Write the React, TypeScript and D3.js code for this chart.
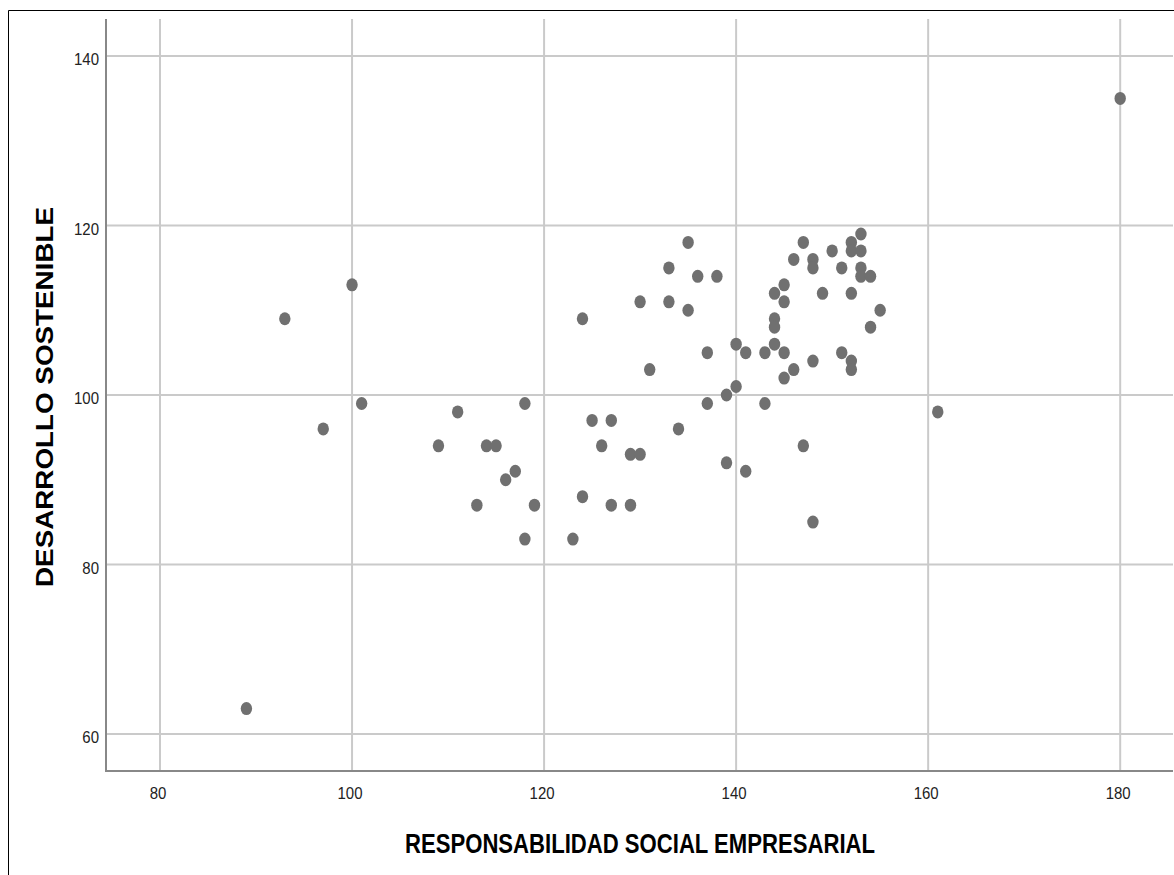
import React from "react";
import * as d3 from "d3";

// data
const rse = [
  89, 93, 97, 100, 101, 109, 111, 113, 114, 115, 116, 117, 118, 118, 119, 123, 124, 124, 125, 126,
  127, 127, 129, 129, 130, 130, 131, 133, 133, 134, 135, 135, 136, 137, 137, 138, 139, 139, 140, 140,
  141, 141, 143, 143, 144, 144, 144, 144, 145, 145, 145, 145, 146, 146, 147, 147, 148, 148, 148, 148,
  149, 150, 151, 151, 152, 152, 152, 152, 152, 153, 153, 153, 153, 154, 154, 155, 161, 180,
];
const ds = [
  63, 109, 96, 113, 99, 94, 98, 87, 94, 94, 90, 91, 99, 83, 87, 83, 109, 88, 97, 94,
  97, 87, 93, 87, 93, 111, 103, 115, 111, 96, 118, 110, 114, 105, 99, 114, 100, 92, 106, 101,
  105, 91, 105, 99, 112, 109, 108, 106, 113, 111, 105, 102, 116, 103, 118, 94, 116, 115, 104, 85,
  112, 117, 115, 105, 118, 117, 112, 104, 103, 119, 117, 115, 114, 114, 108, 110, 98, 135,
];
const xTicks = [80, 100, 120, 140, 160, 180];
const yTicks = [60, 80, 100, 120, 140];
const xTitle = "RESPONSABILIDAD SOCIAL EMPRESARIAL";
const yTitle = "DESARROLLO SOSTENIBLE";

const W = 1174;
const H = 875;
const left = 106;
const right = 1173;
const top = 19;
const bottom = 771;

export default function App() {
  const x = d3.scaleLinear([74.375, 185.5], [left, right]);
  const y = d3.scaleLinear([55.63, 144.37], [bottom, top]);
  const font = "'Liberation Sans', Arial, sans-serif";

  return (
    <svg width={W} height={H} style={{ position: "absolute", left: 0, top: 0, background: "#fff" }}>
      {/* frame */}
      <line x1={8.5} x2={W} y1={10.5} y2={10.5} stroke="#000" strokeWidth={1} />
      <line x1={8.5} x2={8.5} y1={10.5} y2={H} stroke="#000" strokeWidth={1} />

      {/* grid */}
      <g stroke="#cacaca" strokeWidth={2}>
        {yTicks.map((t) => (
          <line key={"gy" + t} x1={left} x2={right} y1={y(t)} y2={y(t)} />
        ))}
        {xTicks.map((t) => (
          <line key={"gx" + t} x1={x(t)} x2={x(t)} y1={top} y2={bottom} />
        ))}
      </g>

      {/* axes */}
      <line x1={left} x2={left} y1={top} y2={bottom + 1} stroke="#888" strokeWidth={2} />
      <line x1={left} x2={right} y1={bottom} y2={bottom} stroke="#888" strokeWidth={2} />

      <g fontFamily={font} fontSize={15} fill="#222">
        {yTicks.map((t) => (
          <text
            key={"ly" + t}
            transform={`translate(${left - 7},${y(t) + 3}) scale(1,1.15)`}
            textAnchor="end"
            dominantBaseline="central"
          >
            {t}
          </text>
        ))}
        {xTicks.map((t) => (
          <text key={"lx" + t} transform={`translate(${x(t) - 2},799) scale(1,1.15)`} textAnchor="middle">
            {t}
          </text>
        ))}
      </g>

      {/* points */}
      <g fill="#707070">
        {rse.map((v, i) => (
          <ellipse key={i} cx={x(v)} cy={y(ds[i])} rx={5.7} ry={6.5} />
        ))}
      </g>

      {/* titles */}
      <text
        x={640}
        y={853}
        textAnchor="middle"
        fontFamily={font}
        fontWeight="bold"
        fontSize={27}
        textLength={470}
        lengthAdjust="spacingAndGlyphs"
        fill="#000"
      >
        {xTitle}
      </text>
      <text
        transform={`translate(53,397) rotate(-90)`}
        textAnchor="middle"
        fontFamily={font}
        fontWeight="bold"
        fontSize={24}
        textLength={380}
        lengthAdjust="spacingAndGlyphs"
        fill="#000"
      >
        {yTitle}
      </text>
    </svg>
  );
}
